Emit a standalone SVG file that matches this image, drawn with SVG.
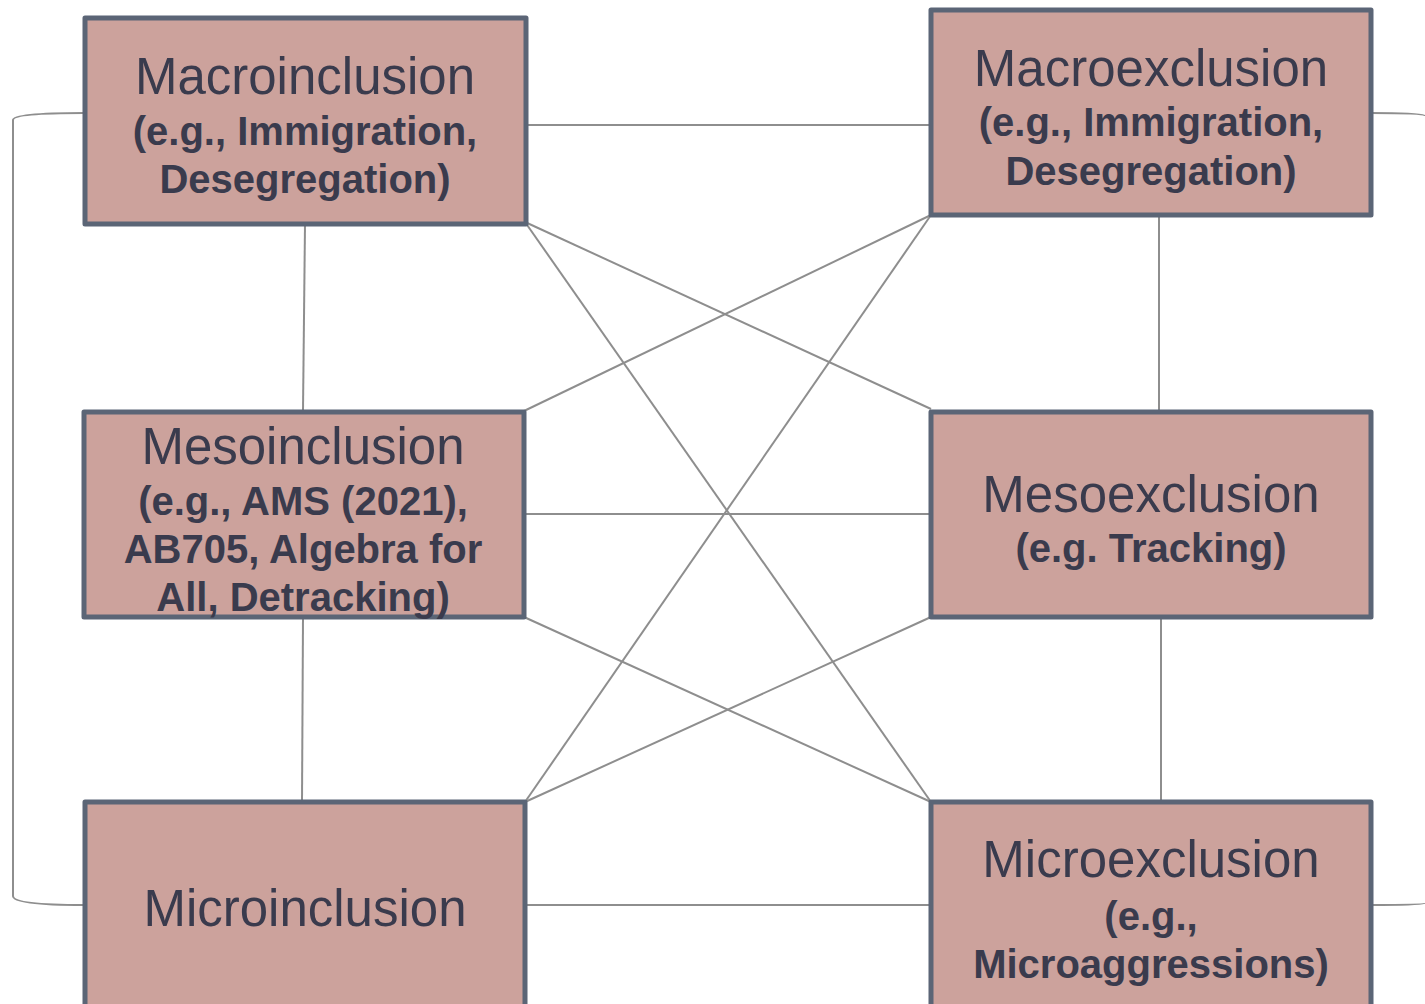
<svg xmlns="http://www.w3.org/2000/svg" width="1425" height="1004" viewBox="0 0 1425 1004">
<style>
.box{fill:#cca29c;stroke:#5b6576;stroke-width:5;stroke-linejoin:round}
.t{font-family:"Liberation Sans",Arial,sans-serif;font-size:51px;fill:#3a3b4d;text-anchor:middle}
.s{font-family:"Liberation Sans",Arial,sans-serif;font-size:40px;font-weight:bold;fill:#3a3b4d;text-anchor:middle}
.c{fill:none;stroke:#8e8e8e;stroke-width:2}
</style>
<rect width="1425" height="1004" fill="#ffffff"/>
<g id="connectors">
<path class="c" d="M84,113 Q13,113 13,120 L13,896 Q13,905 84,905"/>
<path class="c" d="M1371,113 Q1425,113 1425,116"/>
<path class="c" d="M1371,905 Q1425,905 1425,903"/>
<line class="c" x1="526" y1="125" x2="931" y2="125"/>
<line class="c" x1="305" y1="224" x2="303" y2="411"/>
<line class="c" x1="303" y1="617" x2="302" y2="802"/>
<line class="c" x1="1159" y1="215" x2="1159" y2="411"/>
<line class="c" x1="1161" y1="617" x2="1161" y2="802"/>
<line class="c" x1="526" y1="514" x2="931" y2="514"/>
<line class="c" x1="526" y1="905" x2="931" y2="905"/>
<line class="c" x1="525" y1="222" x2="931" y2="409"/>
<line class="c" x1="525" y1="222" x2="931" y2="802"/>
<line class="c" x1="931" y1="215" x2="524" y2="411"/>
<line class="c" x1="931" y1="215" x2="525" y2="802"/>
<line class="c" x1="524" y1="617" x2="931" y2="802"/>
<line class="c" x1="931" y1="617" x2="525" y2="802"/>
</g>
<g id="macroinclusion">
<rect class="box" x="85" y="18" width="441" height="206"/>
<text class="t" x="305" y="94">Macroinclusion</text>
<text class="s" x="305" y="145">(e.g., Immigration,</text>
<text class="s" x="305" y="193">Desegregation)</text>
</g>
<g id="macroexclusion">
<rect class="box" x="931" y="10" width="440" height="205"/>
<text class="t" x="1151" y="86">Macroexclusion</text>
<text class="s" x="1151" y="136">(e.g., Immigration,</text>
<text class="s" x="1151" y="185">Desegregation)</text>
</g>
<g id="mesoinclusion">
<rect class="box" x="84" y="412" width="440" height="205"/>
<text class="t" x="303" y="464">Mesoinclusion</text>
<text class="s" x="303" y="515">(e.g., AMS (2021),</text>
<text class="s" x="303" y="563">AB705, Algebra for</text>
<text class="s" x="303" y="611">All, Detracking)</text>
</g>
<g id="mesoexclusion">
<rect class="box" x="931" y="412" width="440" height="205"/>
<text class="t" x="1151" y="512">Mesoexclusion</text>
<text class="s" x="1151" y="562">(e.g. Tracking)</text>
</g>
<g id="microinclusion">
<rect class="box" x="85" y="802" width="440" height="215"/>
<text class="t" x="305" y="926">Microinclusion</text>
</g>
<g id="microexclusion">
<rect class="box" x="931" y="802" width="440" height="215"/>
<text class="t" x="1151" y="877">Microexclusion</text>
<text class="s" x="1151" y="930">(e.g.,</text>
<text class="s" x="1151" y="978">Microaggressions)</text>
</g>
</svg>
